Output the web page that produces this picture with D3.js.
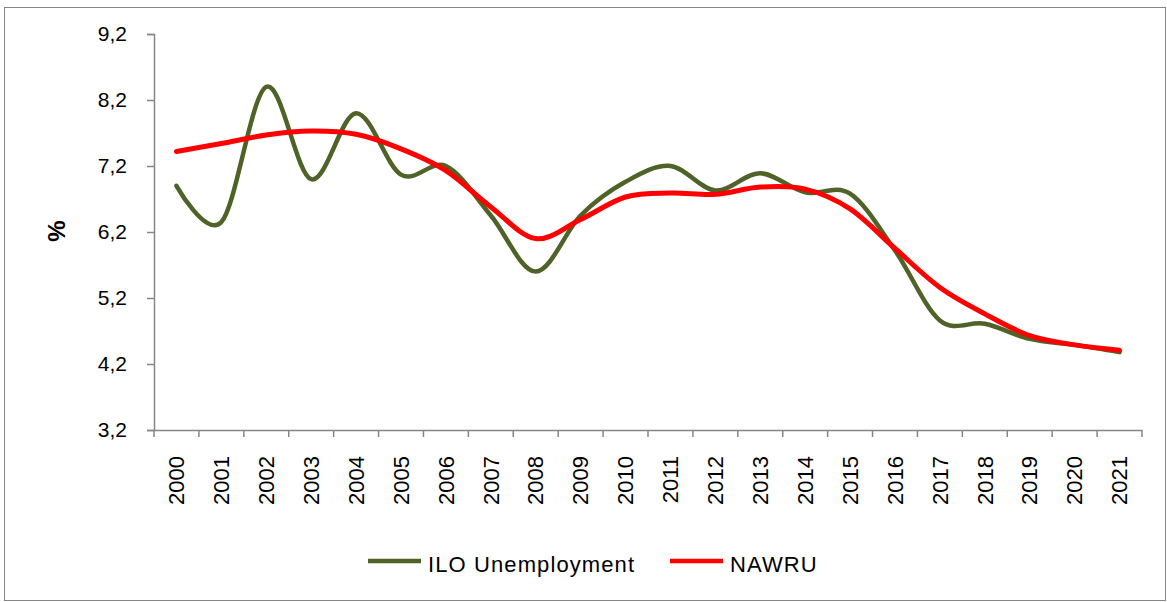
<!DOCTYPE html>
<html>
<head>
<meta charset="utf-8">
<script src="https://cdn.jsdelivr.net/npm/d3@7"></script>
<style>
    body { margin: 0; background: #fff; }
    text { font-family: "Liberation Sans", Arial, sans-serif; fill: #000; }
</style>
</head>
<body>
<div id="chart"></div>
<script>
const years = ["2000", "2001", "2002", "2003", "2004", "2005", "2006", "2007", "2008", "2009", "2010",
               "2011", "2012", "2013", "2014", "2015", "2016", "2017", "2018", "2019", "2020", "2021"];
const iloUnemployment = [6.9, 6.35, 8.4, 7.0, 8.0, 7.07, 7.2, 6.45, 5.6, 6.45, 6.96,
                         7.2, 6.83, 7.09, 6.8, 6.78, 5.92, 4.86, 4.81, 4.58, 4.49, 4.38];
const nawru = [7.42, 7.54, 7.67, 7.73, 7.68, 7.46, 7.13, 6.58, 6.1, 6.39, 6.73,
               6.79, 6.77, 6.88, 6.85, 6.55, 5.95, 5.36, 4.96, 4.63, 4.49, 4.41];
const yTicks = [3.2, 4.2, 5.2, 6.2, 7.2, 8.2, 9.2];

const width = 1167, height = 602;
const axisColor = "#868686";

const svg = d3.select("#chart")
    .append("svg")
    .attr("width", width)
    .attr("height", height);

// outer frame
svg.append("rect")
    .attr("x", 4.5)
    .attr("y", 7.5)
    .attr("width", 1161)
    .attr("height", 593)
    .attr("fill", "#fff")
    .attr("stroke", axisColor)
    .attr("stroke-width", 1);

const x = d3.scaleBand()
    .domain(years)
    .range([154, 1142]);

const y = d3.scaleLinear()
    .domain([3.2, 9.2])
    .range([430, 34]);

// y axis
const yAxis = svg.append("g")
    .attr("transform", "translate(154,0)")
    .call(d3.axisLeft(y)
        .tickValues(yTicks)
        .tickSize(7)
        .tickPadding(20)
        .tickFormat(d => d.toFixed(1).replace(".", ",")));
yAxis.select(".domain").attr("stroke", axisColor).attr("stroke-width", 1.5);
yAxis.selectAll(".tick line").attr("stroke", axisColor).attr("stroke-width", 1.5);
yAxis.selectAll(".tick text")
    .style("font-size", "21px")
    .style("font-family", "'Liberation Sans', Arial, sans-serif")
    .attr("fill", "#000");

// x axis: labels at band centres, ticks at band edges
const xAxis = svg.append("g")
    .attr("transform", "translate(0,430)")
    .call(d3.axisBottom(x).tickSize(0).tickPadding(0));
xAxis.select(".domain").attr("stroke", axisColor).attr("stroke-width", 1.5);
xAxis.selectAll(".tick text")
    .attr("transform", "rotate(-90)")
    .attr("text-anchor", "end")
    .attr("x", -26)
    .attr("y", 0)
    .attr("dy", "0.35em")
    .style("font-size", "22px")
    .style("font-family", "'Liberation Sans', Arial, sans-serif")
    .attr("fill", "#000");

const edges = years.map(d => x(d)).concat([x.range()[1]]);
svg.append("g")
    .selectAll("line")
    .data(edges)
    .enter()
    .append("line")
    .attr("x1", d => d)
    .attr("x2", d => d)
    .attr("y1", 430)
    .attr("y2", 437)
    .attr("stroke", axisColor)
    .attr("stroke-width", 1.5);

// y axis title
svg.append("text")
    .attr("transform", "translate(57,231) rotate(-90)")
    .attr("text-anchor", "middle")
    .attr("dy", "0.35em")
    .style("font-size", "24px")
    .style("font-weight", "bold")
    .text("%");

const line = d3.line()
    .x((d, i) => x(years[i]) + x.bandwidth() / 2)
    .y(d => y(d))
    .curve(d3.curveCardinal.tension(0));

const series = [
    { name: "ILO Unemployment", values: iloUnemployment, color: "#4F6228", width: 4.5 },
    { name: "NAWRU", values: nawru, color: "#FF0000", width: 5 }
];

series.forEach(s => {
    svg.append("path")
        .datum(s.values)
        .attr("fill", "none")
        .attr("stroke", s.color)
        .attr("stroke-width", s.width)
        .attr("stroke-linecap", "round")
        .attr("stroke-linejoin", "round")
        .attr("d", line);
});

// legend
const legendPos = [368, 670];
series.forEach((s, i) => {
    const g = svg.append("g")
        .attr("transform", `translate(${legendPos[i]},561)`);
    g.append("line")
        .attr("x1", 0)
        .attr("x2", 53)
        .attr("y1", 0)
        .attr("y2", 0)
        .attr("stroke", s.color)
        .attr("stroke-width", 4.5);
    g.append("text")
        .attr("x", 60)
        .attr("y", 11)
        .style("font-size", "22px")
        .style("letter-spacing", "1.1px")
        .text(s.name);
});
</script>
</body>
</html>
